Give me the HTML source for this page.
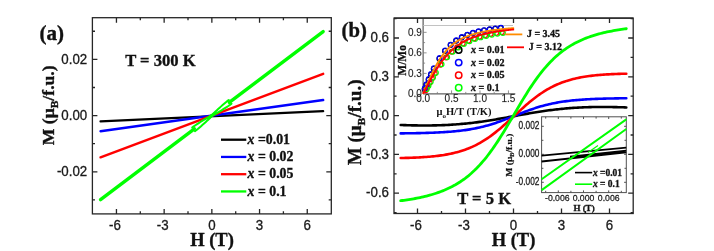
<!DOCTYPE html>
<html><head><meta charset="utf-8"><style>
html,body{margin:0;padding:0;background:#fff;width:714px;height:251px;overflow:hidden;-webkit-font-smoothing:antialiased}
svg{will-change:transform}
</style></head><body>
<div style="position:relative;width:714px;height:251px">
<svg width="714" height="251" viewBox="0 0 714 251" style="position:absolute;left:0;top:0">
<rect x="92.4" y="17.7" width="238.9" height="196.2" fill="none" stroke="#262626" stroke-width="1.3"/>
<path d="M116.45,213.9 v-5 M116.45,17.7 v5 M164.15,213.9 v-5 M164.15,17.7 v5 M211.85,213.9 v-5 M211.85,17.7 v5 M259.55,213.9 v-5 M259.55,17.7 v5 M307.25,213.9 v-5 M307.25,17.7 v5 M140.3,213.9 v-2.6 M140.3,17.7 v2.6 M188,213.9 v-2.6 M188,17.7 v2.6 M235.7,213.9 v-2.6 M235.7,17.7 v2.6 M283.4,213.9 v-2.6 M283.4,17.7 v2.6 M92.4,171.84 h5 M331.3,171.84 h-5 M92.4,115.6 h5 M331.3,115.6 h-5 M92.4,59.36 h5 M331.3,59.36 h-5 M92.4,199.96 h2.6 M331.3,199.96 h-2.6 M92.4,143.72 h2.6 M331.3,143.72 h-2.6 M92.4,87.48 h2.6 M331.3,87.48 h-2.6 M92.4,31.24 h2.6 M331.3,31.24 h-2.6" stroke="#262626" stroke-width="1.3" fill="none"/>
<text transform="translate(114.95,229.8) scale(1.0,1.1)" font-family="Liberation Sans" font-size="13.3" font-weight="normal" text-anchor="middle" fill="#1a1a1a" stroke="#1a1a1a" stroke-width="0.3" >-6</text>
<text transform="translate(162.65,229.8) scale(1.0,1.1)" font-family="Liberation Sans" font-size="13.3" font-weight="normal" text-anchor="middle" fill="#1a1a1a" stroke="#1a1a1a" stroke-width="0.3" >-3</text>
<text transform="translate(211.85,229.8) scale(1.0,1.1)" font-family="Liberation Sans" font-size="13.3" font-weight="normal" text-anchor="middle" fill="#1a1a1a" stroke="#1a1a1a" stroke-width="0.3" >0</text>
<text transform="translate(259.55,229.8) scale(1.0,1.1)" font-family="Liberation Sans" font-size="13.3" font-weight="normal" text-anchor="middle" fill="#1a1a1a" stroke="#1a1a1a" stroke-width="0.3" >3</text>
<text transform="translate(307.25,229.8) scale(1.0,1.1)" font-family="Liberation Sans" font-size="13.3" font-weight="normal" text-anchor="middle" fill="#1a1a1a" stroke="#1a1a1a" stroke-width="0.3" >6</text>
<text transform="translate(87.2,63.66) scale(1.0,1.1)" font-family="Liberation Sans" font-size="13.3" font-weight="normal" text-anchor="end" fill="#1a1a1a" stroke="#1a1a1a" stroke-width="0.3" >0.02</text>
<text transform="translate(87.2,119.9) scale(1.0,1.1)" font-family="Liberation Sans" font-size="13.3" font-weight="normal" text-anchor="end" fill="#1a1a1a" stroke="#1a1a1a" stroke-width="0.3" >0.00</text>
<text transform="translate(87.2,176.14) scale(1.0,1.1)" font-family="Liberation Sans" font-size="13.3" font-weight="normal" text-anchor="end" fill="#1a1a1a" stroke="#1a1a1a" stroke-width="0.3" >-0.02</text>
<path d="M100.55,121.42 L323.15,111.19" stroke="#000000" stroke-width="2.3" fill="none" stroke-linecap="round"/>
<path d="M100.55,131.15 L323.15,100.05" stroke="#0000ff" stroke-width="2.5" fill="none" stroke-linecap="round"/>
<path d="M100.55,157.33 L323.15,73.87" stroke="#ff0000" stroke-width="2.5" fill="none" stroke-linecap="round"/>
<path d="M100.55,199.65 L194.36,128.81 M229.34,102.39 L323.15,31.55" stroke="#00ff00" stroke-width="3.4" fill="none" stroke-linecap="round"/>
<path d="M192.19,127.57 L193.78,126.37 L195.41,125.22 L197.08,124.14 L198.76,123.06 L200.45,121.98 L202.14,120.92 L203.84,119.86 L205.55,118.82 L207.27,117.8 L209.02,116.81 L210.83,115.9 L212.42,114.69 L213.79,113.21 L215.22,111.8 L216.68,110.42 L218.15,109.06 L219.63,107.71 L221.12,106.37 L222.61,105.05 L224.11,103.72 L225.62,102.41 L227.16,101.15 L228.75,99.95 M194.94,131.25 L196.53,130.05 L198.08,128.79 L199.59,127.48 L201.09,126.15 L202.58,124.83 L204.07,123.49 L205.55,122.14 L207.02,120.78 L208.48,119.4 L209.91,117.99 L211.28,116.51 L212.87,115.3 L214.68,114.39 L216.43,113.4 L218.15,112.38 L219.86,111.34 L221.56,110.28 L223.25,109.22 L224.94,108.14 L226.62,107.06 L228.29,105.98 L229.92,104.83 L231.51,103.63" stroke="#00ff00" stroke-width="2.0" fill="none" stroke-linecap="round" stroke-linejoin="round"/>
<path d="M209.8,117 L213.8,114" stroke="#00ff00" stroke-width="3" fill="none" stroke-linecap="round"/>
<path d="M221,139.7 H246.3" stroke="#000000" stroke-width="2.3"/>
<text transform="translate(247.6,143.9) scale(1.0,1.0)" font-family="Liberation Serif" font-size="13.8" font-weight="bold" text-anchor="start" fill="#111" stroke="#111" stroke-width="0.35" ><tspan font-style="italic">x</tspan> =0.01</text>
<path d="M221,156.95 H246.3" stroke="#0000ff" stroke-width="2.3"/>
<text transform="translate(247.6,161.15) scale(1.0,1.0)" font-family="Liberation Serif" font-size="13.8" font-weight="bold" text-anchor="start" fill="#111" stroke="#111" stroke-width="0.35" ><tspan font-style="italic">x</tspan> = 0.02</text>
<path d="M221,174.2 H246.3" stroke="#ff0000" stroke-width="2.3"/>
<text transform="translate(247.6,178.4) scale(1.0,1.0)" font-family="Liberation Serif" font-size="13.8" font-weight="bold" text-anchor="start" fill="#111" stroke="#111" stroke-width="0.35" ><tspan font-style="italic">x</tspan> = 0.05</text>
<path d="M221,191.45 H246.3" stroke="#00ff00" stroke-width="2.3"/>
<text transform="translate(247.6,195.65) scale(1.0,1.0)" font-family="Liberation Serif" font-size="13.8" font-weight="bold" text-anchor="start" fill="#111" stroke="#111" stroke-width="0.35" ><tspan font-style="italic">x</tspan> = 0.1</text>
<text transform="translate(125.2,65.8) scale(1.0,1.03)" font-family="Liberation Serif" font-size="16.6" font-weight="bold" text-anchor="start" fill="#111" stroke="#111" stroke-width="0.35" >T = 300 K</text>
<text transform="translate(39.4,39.9) scale(1.0,1.0)" font-family="Liberation Serif" font-size="21" font-weight="bold" text-anchor="start" fill="#111" stroke="#111" stroke-width="0.35" >(a)</text>
<text transform="translate(212,246) scale(1.0,1.0)" font-family="Liberation Serif" font-size="18.5" font-weight="bold" text-anchor="middle" fill="#111" stroke="#111" stroke-width="0.35" >H (T)</text>
<text transform="translate(54.0,105.3) rotate(-90) scale(1.04,1)" font-family="Liberation Serif" font-size="17" font-weight="bold" text-anchor="middle" fill="#111" stroke="#111" stroke-width="0.35">M (μ<tspan font-size="11" dy="4">B</tspan><tspan dy="-4">/f.u.)</tspan></text>
<rect x="394" y="18.1" width="239.2" height="195.4" fill="none" stroke="#262626" stroke-width="1.3"/>
<path d="M417.5,213.5 v-5 M417.5,18.1 v5 M465.5,213.5 v-5 M465.5,18.1 v5 M513.5,213.5 v-5 M513.5,18.1 v5 M561.5,213.5 v-5 M561.5,18.1 v5 M609.5,213.5 v-5 M609.5,18.1 v5 M441.5,213.5 v-2.6 M441.5,18.1 v2.6 M489.5,213.5 v-2.6 M489.5,18.1 v2.6 M537.5,213.5 v-2.6 M537.5,18.1 v2.6 M585.5,213.5 v-2.6 M585.5,18.1 v2.6 M394,193.18 h5 M633.2,193.18 h-5 M394,154.39 h5 M633.2,154.39 h-5 M394,115.6 h5 M633.2,115.6 h-5 M394,76.81 h5 M633.2,76.81 h-5 M394,38.02 h5 M633.2,38.02 h-5 M394,212.57 h2.6 M633.2,212.57 h-2.6 M394,173.78 h2.6 M633.2,173.78 h-2.6 M394,135 h2.6 M633.2,135 h-2.6 M394,96.2 h2.6 M633.2,96.2 h-2.6 M394,57.41 h2.6 M633.2,57.41 h-2.6 M394,18.62 h2.6 M633.2,18.62 h-2.6" stroke="#262626" stroke-width="1.3" fill="none"/>
<text transform="translate(416,229.8) scale(1.0,1.1)" font-family="Liberation Sans" font-size="13.3" font-weight="normal" text-anchor="middle" fill="#1a1a1a" stroke="#1a1a1a" stroke-width="0.3" >-6</text>
<text transform="translate(464,229.8) scale(1.0,1.1)" font-family="Liberation Sans" font-size="13.3" font-weight="normal" text-anchor="middle" fill="#1a1a1a" stroke="#1a1a1a" stroke-width="0.3" >-3</text>
<text transform="translate(513.5,229.8) scale(1.0,1.1)" font-family="Liberation Sans" font-size="13.3" font-weight="normal" text-anchor="middle" fill="#1a1a1a" stroke="#1a1a1a" stroke-width="0.3" >0</text>
<text transform="translate(561.5,229.8) scale(1.0,1.1)" font-family="Liberation Sans" font-size="13.3" font-weight="normal" text-anchor="middle" fill="#1a1a1a" stroke="#1a1a1a" stroke-width="0.3" >3</text>
<text transform="translate(609.5,229.8) scale(1.0,1.1)" font-family="Liberation Sans" font-size="13.3" font-weight="normal" text-anchor="middle" fill="#1a1a1a" stroke="#1a1a1a" stroke-width="0.3" >6</text>
<text transform="translate(389,42.32) scale(1.0,1.1)" font-family="Liberation Sans" font-size="13.3" font-weight="normal" text-anchor="end" fill="#1a1a1a" stroke="#1a1a1a" stroke-width="0.3" >0.6</text>
<text transform="translate(389,81.11) scale(1.0,1.1)" font-family="Liberation Sans" font-size="13.3" font-weight="normal" text-anchor="end" fill="#1a1a1a" stroke="#1a1a1a" stroke-width="0.3" >0.3</text>
<text transform="translate(389,119.9) scale(1.0,1.1)" font-family="Liberation Sans" font-size="13.3" font-weight="normal" text-anchor="end" fill="#1a1a1a" stroke="#1a1a1a" stroke-width="0.3" >0.0</text>
<text transform="translate(389,158.69) scale(1.0,1.1)" font-family="Liberation Sans" font-size="13.3" font-weight="normal" text-anchor="end" fill="#1a1a1a" stroke="#1a1a1a" stroke-width="0.3" >-0.3</text>
<text transform="translate(389,197.48) scale(1.0,1.1)" font-family="Liberation Sans" font-size="13.3" font-weight="normal" text-anchor="end" fill="#1a1a1a" stroke="#1a1a1a" stroke-width="0.3" >-0.6</text>
<path d="M400.7,125.01 L402.31,125.07 L403.92,125.12 L405.53,125.17 L407.15,125.22 L408.76,125.26 L410.37,125.3 L411.98,125.34 L413.59,125.37 L415.2,125.4 L416.81,125.42 L418.43,125.44 L420.04,125.46 L421.65,125.47 L423.26,125.47 L424.87,125.48 L426.48,125.47 L428.09,125.46 L429.71,125.45 L431.32,125.43 L432.93,125.41 L434.54,125.38 L436.15,125.34 L437.76,125.3 L439.37,125.26 L440.99,125.2 L442.6,125.14 L444.21,125.08 L445.82,125.01 L447.43,124.93 L449.04,124.84 L450.65,124.75 L452.27,124.66 L453.88,124.55 L455.49,124.44 L457.1,124.32 L458.71,124.19 L460.32,124.06 L461.93,123.92 L463.55,123.77 L465.16,123.62 L466.77,123.46 L468.38,123.29 L469.99,123.11 L471.6,122.93 L473.21,122.74 L474.83,122.54 L476.44,122.34 L478.05,122.13 L479.66,121.91 L481.27,121.69 L482.88,121.46 L484.49,121.22 L486.11,120.98 L487.72,120.73 L489.33,120.48 L490.94,120.22 L492.55,119.96 L494.16,119.69 L495.77,119.42 L497.39,119.14 L499,118.86 L500.61,118.58 L502.22,118.29 L503.83,118 L505.44,117.71 L507.05,117.42 L508.67,117.12 L510.28,116.83 L511.89,116.53 L513.5,116.23 L515.11,115.94 L516.72,115.64 L518.33,115.34 L519.95,115.05 L521.56,114.75 L523.17,114.46 L524.78,114.17 L526.39,113.89 L528,113.6 L529.61,113.32 L531.23,113.05 L532.84,112.77 L534.45,112.51 L536.06,112.24 L537.67,111.98 L539.28,111.73 L540.89,111.48 L542.51,111.24 L544.12,111 L545.73,110.77 L547.34,110.55 L548.95,110.33 L550.56,110.12 L552.17,109.92 L553.79,109.72 L555.4,109.53 L557.01,109.35 L558.62,109.17 L560.23,109 L561.84,108.84 L563.45,108.68 L565.07,108.54 L566.68,108.4 L568.29,108.26 L569.9,108.14 L571.51,108.02 L573.12,107.9 L574.73,107.8 L576.35,107.7 L577.96,107.61 L579.57,107.52 L581.18,107.44 L582.79,107.37 L584.4,107.31 L586.01,107.25 L587.63,107.19 L589.24,107.15 L590.85,107.11 L592.46,107.07 L594.07,107.04 L595.68,107.02 L597.29,107 L598.91,106.98 L600.52,106.98 L602.13,106.97 L603.74,106.97 L605.35,106.98 L606.96,106.99 L608.57,107.01 L610.19,107.02 L611.8,107.05 L613.41,107.08 L615.02,107.11 L616.63,107.14 L618.24,107.18 L619.85,107.23 L621.47,107.27 L623.08,107.32 L624.69,107.38 L626.3,107.43" stroke="#000000" stroke-width="2.6" fill="none" stroke-linecap="round"/>
<path d="M400.7,133.38 L402.31,133.36 L403.92,133.34 L405.53,133.32 L407.15,133.3 L408.76,133.28 L410.37,133.26 L411.98,133.24 L413.59,133.21 L415.2,133.18 L416.81,133.15 L418.43,133.12 L420.04,133.08 L421.65,133.05 L423.26,133.01 L424.87,132.96 L426.48,132.92 L428.09,132.87 L429.71,132.82 L431.32,132.76 L432.93,132.7 L434.54,132.63 L436.15,132.56 L437.76,132.49 L439.37,132.41 L440.99,132.32 L442.6,132.23 L444.21,132.14 L445.82,132.03 L447.43,131.92 L449.04,131.8 L450.65,131.68 L452.27,131.54 L453.88,131.4 L455.49,131.24 L457.1,131.08 L458.71,130.91 L460.32,130.72 L461.93,130.53 L463.55,130.32 L465.16,130.1 L466.77,129.86 L468.38,129.61 L469.99,129.35 L471.6,129.08 L473.21,128.78 L474.83,128.47 L476.44,128.15 L478.05,127.81 L479.66,127.45 L481.27,127.07 L482.88,126.68 L484.49,126.27 L486.11,125.84 L487.72,125.39 L489.33,124.93 L490.94,124.45 L492.55,123.95 L494.16,123.43 L495.77,122.9 L497.39,122.35 L499,121.78 L500.61,121.21 L502.22,120.62 L503.83,120.02 L505.44,119.4 L507.05,118.78 L508.67,118.15 L510.28,117.52 L511.89,116.88 L513.5,116.24 L515.11,115.59 L516.72,114.95 L518.33,114.31 L519.95,113.67 L521.56,113.04 L523.17,112.42 L524.78,111.8 L526.39,111.19 L528,110.6 L529.61,110.02 L531.23,109.45 L532.84,108.9 L534.45,108.36 L536.06,107.83 L537.67,107.33 L539.28,106.84 L540.89,106.37 L542.51,105.92 L544.12,105.48 L545.73,105.06 L547.34,104.66 L548.95,104.28 L550.56,103.92 L552.17,103.57 L553.79,103.24 L555.4,102.92 L557.01,102.63 L558.62,102.34 L560.23,102.08 L561.84,101.82 L563.45,101.58 L565.07,101.36 L566.68,101.15 L568.29,100.95 L569.9,100.76 L571.51,100.58 L573.12,100.41 L574.73,100.26 L576.35,100.11 L577.96,99.97 L579.57,99.84 L581.18,99.72 L582.79,99.61 L584.4,99.5 L586.01,99.4 L587.63,99.31 L589.24,99.22 L590.85,99.14 L592.46,99.06 L594.07,98.99 L595.68,98.92 L597.29,98.86 L598.91,98.8 L600.52,98.75 L602.13,98.7 L603.74,98.65 L605.35,98.61 L606.96,98.57 L608.57,98.53 L610.19,98.49 L611.8,98.46 L613.41,98.43 L615.02,98.4 L616.63,98.37 L618.24,98.35 L619.85,98.32 L621.47,98.3 L623.08,98.28 L624.69,98.26 L626.3,98.24" stroke="#0000ff" stroke-width="2.6" fill="none" stroke-linecap="round"/>
<path d="M400.7,158.03 L402.31,158 L403.92,157.96 L405.53,157.92 L407.15,157.88 L408.76,157.83 L410.37,157.78 L411.98,157.73 L413.59,157.66 L415.2,157.6 L416.81,157.53 L418.43,157.45 L420.04,157.36 L421.65,157.27 L423.26,157.17 L424.87,157.06 L426.48,156.94 L428.09,156.82 L429.71,156.68 L431.32,156.54 L432.93,156.38 L434.54,156.21 L436.15,156.03 L437.76,155.84 L439.37,155.63 L440.99,155.41 L442.6,155.18 L444.21,154.92 L445.82,154.65 L447.43,154.36 L449.04,154.06 L450.65,153.73 L452.27,153.38 L453.88,153.01 L455.49,152.61 L457.1,152.19 L458.71,151.75 L460.32,151.27 L461.93,150.77 L463.55,150.24 L465.16,149.68 L466.77,149.09 L468.38,148.46 L469.99,147.81 L471.6,147.11 L473.21,146.38 L474.83,145.62 L476.44,144.81 L478.05,143.97 L479.66,143.09 L481.27,142.17 L482.88,141.21 L484.49,140.21 L486.11,139.17 L487.72,138.09 L489.33,136.97 L490.94,135.82 L492.55,134.62 L494.16,133.39 L495.77,132.13 L497.39,130.83 L499,129.5 L500.61,128.14 L502.22,126.76 L503.83,125.35 L505.44,123.92 L507.05,122.47 L508.67,121 L510.28,119.53 L511.89,118.04 L513.5,116.55 L515.11,115.06 L516.72,113.57 L518.33,112.08 L519.95,110.6 L521.56,109.14 L523.17,107.69 L524.78,106.26 L526.39,104.85 L528,103.47 L529.61,102.11 L531.23,100.79 L532.84,99.49 L534.45,98.23 L536.06,97 L537.67,95.81 L539.28,94.65 L540.89,93.54 L542.51,92.46 L544.12,91.43 L545.73,90.43 L547.34,89.47 L548.95,88.55 L550.56,87.67 L552.17,86.84 L553.79,86.03 L555.4,85.27 L557.01,84.54 L558.62,83.85 L560.23,83.19 L561.84,82.57 L563.45,81.98 L565.07,81.42 L566.68,80.89 L568.29,80.4 L569.9,79.92 L571.51,79.48 L573.12,79.06 L574.73,78.67 L576.35,78.3 L577.96,77.95 L579.57,77.62 L581.18,77.32 L582.79,77.03 L584.4,76.76 L586.01,76.51 L587.63,76.27 L589.24,76.05 L590.85,75.85 L592.46,75.65 L594.07,75.47 L595.68,75.31 L597.29,75.15 L598.91,75.01 L600.52,74.87 L602.13,74.75 L603.74,74.63 L605.35,74.52 L606.96,74.42 L608.57,74.33 L610.19,74.25 L611.8,74.17 L613.41,74.1 L615.02,74.03 L616.63,73.97 L618.24,73.91 L619.85,73.86 L621.47,73.82 L623.08,73.77 L624.69,73.73 L626.3,73.7" stroke="#ff0000" stroke-width="2.6" fill="none" stroke-linecap="round"/>
<path d="M400.7,200.71 L402.31,200.51 L403.92,200.3 L405.53,200.07 L407.15,199.84 L408.76,199.6 L410.37,199.34 L411.98,199.07 L413.59,198.8 L415.2,198.5 L416.81,198.2 L418.43,197.88 L420.04,197.55 L421.65,197.2 L423.26,196.83 L424.87,196.45 L426.48,196.05 L428.09,195.63 L429.71,195.2 L431.32,194.74 L432.93,194.26 L434.54,193.76 L436.15,193.24 L437.76,192.69 L439.37,192.12 L440.99,191.52 L442.6,190.89 L444.21,190.24 L445.82,189.55 L447.43,188.83 L449.04,188.08 L450.65,187.29 L452.27,186.46 L453.88,185.6 L455.49,184.7 L457.1,183.75 L458.71,182.76 L460.32,181.73 L461.93,180.64 L463.55,179.51 L465.16,178.33 L466.77,177.09 L468.38,175.8 L469.99,174.45 L471.6,173.05 L473.21,171.58 L474.83,170.05 L476.44,168.46 L478.05,166.81 L479.66,165.09 L481.27,163.3 L482.88,161.45 L484.49,159.53 L486.11,157.55 L487.72,155.49 L489.33,153.38 L490.94,151.19 L492.55,148.95 L494.16,146.64 L495.77,144.27 L497.39,141.85 L499,139.37 L500.61,136.85 L502.22,134.27 L503.83,131.66 L505.44,129.01 L507.05,126.33 L508.67,123.63 L510.28,120.9 L511.89,118.17 L513.5,115.42 L515.11,112.67 L516.72,109.93 L518.33,107.19 L519.95,104.48 L521.56,101.78 L523.17,99.12 L524.78,96.48 L526.39,93.89 L528,91.34 L529.61,88.83 L531.23,86.38 L532.84,83.98 L534.45,81.64 L536.06,79.36 L537.67,77.15 L539.28,74.99 L540.89,72.9 L542.51,70.88 L544.12,68.93 L545.73,67.04 L547.34,65.22 L548.95,63.46 L550.56,61.77 L552.17,60.15 L553.79,58.59 L555.4,57.09 L557.01,55.65 L558.62,54.27 L560.23,52.95 L561.84,51.68 L563.45,50.47 L565.07,49.31 L566.68,48.2 L568.29,47.14 L569.9,46.13 L571.51,45.16 L573.12,44.23 L574.73,43.35 L576.35,42.5 L577.96,41.69 L579.57,40.92 L581.18,40.18 L582.79,39.48 L584.4,38.8 L586.01,38.16 L587.63,37.55 L589.24,36.96 L590.85,36.4 L592.46,35.86 L594.07,35.35 L595.68,34.86 L597.29,34.39 L598.91,33.95 L600.52,33.52 L602.13,33.11 L603.74,32.72 L605.35,32.34 L606.96,31.99 L608.57,31.65 L610.19,31.32 L611.8,31.01 L613.41,30.71 L615.02,30.42 L616.63,30.15 L618.24,29.89 L619.85,29.64 L621.47,29.4 L623.08,29.17 L624.69,28.95 L626.3,28.74" stroke="#00ff00" stroke-width="2.8" fill="none" stroke-linecap="round"/>
<text transform="translate(457.2,204) scale(1.0,1.03)" font-family="Liberation Serif" font-size="16.6" font-weight="bold" text-anchor="start" fill="#111" stroke="#111" stroke-width="0.35" >T = 5 K</text>
<text transform="translate(341.5,36.6) scale(1.0,1.0)" font-family="Liberation Serif" font-size="20.7" font-weight="bold" text-anchor="start" fill="#111" stroke="#111" stroke-width="0.35" >(b)</text>
<text transform="translate(513.5,246) scale(1.0,1.0)" font-family="Liberation Serif" font-size="18.5" font-weight="bold" text-anchor="middle" fill="#111" stroke="#111" stroke-width="0.35" >H (T)</text>
<text transform="translate(361.0,122.4) rotate(-90) scale(1.06,1)" font-family="Liberation Serif" font-size="18" font-weight="bold" text-anchor="middle" fill="#111" stroke="#111" stroke-width="0.35">M (μ<tspan font-size="11" dy="4">B</tspan><tspan dy="-4">/f.u.)</tspan></text>
<path d="M423.1,18.1 V93.9 H515.3" stroke="#3a3a3a" stroke-width="1.0" fill="none"/>
<path d="M423.1,25.5 H513" stroke="#bbbbbb" stroke-width="0.9" fill="none"/>
<path d="M451.55,93.9 v-3.5 M480,93.9 v-3.5 M508.45,93.9 v-3.5 M437.33,93.9 v-2 M465.78,93.9 v-2 M494.23,93.9 v-2 M423.1,73.38 h3.5 M423.1,52.86 h3.5 M423.1,32.34 h3.5 M423.1,83.64 h2 M423.1,63.12 h2 M423.1,42.6 h2" stroke="#777" stroke-width="0.8" fill="none"/>
<path d="M394.0,18.1 H633.2" stroke="#262626" stroke-width="1.3"/>
<text transform="translate(421.9,35.84) scale(1.0,1.1)" font-family="Liberation Sans" font-size="10" font-weight="normal" text-anchor="end" fill="#1a1a1a" stroke="#1a1a1a" stroke-width="0.27" stroke-opacity="0.4">0.9</text>
<text transform="translate(421.9,56.36) scale(1.0,1.1)" font-family="Liberation Sans" font-size="10" font-weight="normal" text-anchor="end" fill="#1a1a1a" stroke="#1a1a1a" stroke-width="0.27" stroke-opacity="0.4">0.6</text>
<text transform="translate(421.9,76.88) scale(1.0,1.1)" font-family="Liberation Sans" font-size="10" font-weight="normal" text-anchor="end" fill="#1a1a1a" stroke="#1a1a1a" stroke-width="0.27" stroke-opacity="0.4">0.3</text>
<text transform="translate(421.9,97.4) scale(1.0,1.1)" font-family="Liberation Sans" font-size="10" font-weight="normal" text-anchor="end" fill="#1a1a1a" stroke="#1a1a1a" stroke-width="0.27" stroke-opacity="0.4">0.0</text>
<text transform="translate(423.1,102.3) scale(1.0,1.1)" font-family="Liberation Sans" font-size="10" font-weight="normal" text-anchor="middle" fill="#1a1a1a" stroke="#1a1a1a" stroke-width="0.27" stroke-opacity="0.4">0.0</text>
<text transform="translate(451.55,102.3) scale(1.0,1.1)" font-family="Liberation Sans" font-size="10" font-weight="normal" text-anchor="middle" fill="#1a1a1a" stroke="#1a1a1a" stroke-width="0.27" stroke-opacity="0.4">0.5</text>
<text transform="translate(480,102.3) scale(1.0,1.1)" font-family="Liberation Sans" font-size="10" font-weight="normal" text-anchor="middle" fill="#1a1a1a" stroke="#1a1a1a" stroke-width="0.27" stroke-opacity="0.4">1.0</text>
<text transform="translate(508.45,102.3) scale(1.0,1.1)" font-family="Liberation Sans" font-size="10" font-weight="normal" text-anchor="middle" fill="#1a1a1a" stroke="#1a1a1a" stroke-width="0.27" stroke-opacity="0.4">1.5</text>
<text x="464" y="115" font-family="Liberation Serif" font-size="10.5" font-weight="bold" text-anchor="middle" fill="#111">μ<tspan font-size="7" dy="2.5">o</tspan><tspan dy="-2.5">H/T (T/K)</tspan></text>
<text transform="translate(405.6,60.4) rotate(-90)" font-family="Liberation Serif" font-size="11.5" stroke="#111" stroke-width="0.3" font-weight="bold" text-anchor="middle" fill="#111">M/Mo</text>
<circle cx="424.58" cy="89.13" r="2.4" fill="none" stroke="#000000" stroke-width="1.15"/>
<circle cx="426.29" cy="85.08" r="2.4" fill="none" stroke="#000000" stroke-width="1.15"/>
<circle cx="428.56" cy="79.81" r="2.4" fill="none" stroke="#000000" stroke-width="1.15"/>
<circle cx="430.84" cy="74.75" r="2.4" fill="none" stroke="#000000" stroke-width="1.15"/>
<circle cx="433.68" cy="68.85" r="2.4" fill="none" stroke="#000000" stroke-width="1.15"/>
<circle cx="439.37" cy="58.68" r="2.4" fill="none" stroke="#000000" stroke-width="1.15"/>
<circle cx="444.95" cy="50.93" r="2.4" fill="none" stroke="#000000" stroke-width="1.15"/>
<circle cx="450.53" cy="45.09" r="2.4" fill="none" stroke="#000000" stroke-width="1.15"/>
<circle cx="456.1" cy="40.74" r="2.4" fill="none" stroke="#000000" stroke-width="1.15"/>
<circle cx="461.68" cy="37.49" r="2.4" fill="none" stroke="#000000" stroke-width="1.15"/>
<circle cx="467.25" cy="35.02" r="2.4" fill="none" stroke="#000000" stroke-width="1.15"/>
<circle cx="472.83" cy="33.12" r="2.4" fill="none" stroke="#000000" stroke-width="1.15"/>
<circle cx="478.41" cy="31.63" r="2.4" fill="none" stroke="#000000" stroke-width="1.15"/>
<circle cx="483.98" cy="30.44" r="2.4" fill="none" stroke="#000000" stroke-width="1.15"/>
<circle cx="489.56" cy="29.48" r="2.4" fill="none" stroke="#000000" stroke-width="1.15"/>
<circle cx="495.14" cy="28.7" r="2.4" fill="none" stroke="#000000" stroke-width="1.15"/>
<circle cx="500.71" cy="28.05" r="2.4" fill="none" stroke="#000000" stroke-width="1.15"/>
<circle cx="425.66" cy="90.28" r="2.4" fill="none" stroke="#ff0000" stroke-width="1.15"/>
<circle cx="427.37" cy="87" r="2.4" fill="none" stroke="#ff0000" stroke-width="1.15"/>
<circle cx="429.64" cy="82.7" r="2.4" fill="none" stroke="#ff0000" stroke-width="1.15"/>
<circle cx="431.92" cy="78.55" r="2.4" fill="none" stroke="#ff0000" stroke-width="1.15"/>
<circle cx="434.76" cy="73.61" r="2.4" fill="none" stroke="#ff0000" stroke-width="1.15"/>
<circle cx="440.45" cy="64.77" r="2.4" fill="none" stroke="#ff0000" stroke-width="1.15"/>
<circle cx="446.03" cy="57.58" r="2.4" fill="none" stroke="#ff0000" stroke-width="1.15"/>
<circle cx="451.61" cy="51.79" r="2.4" fill="none" stroke="#ff0000" stroke-width="1.15"/>
<circle cx="457.18" cy="47.2" r="2.4" fill="none" stroke="#ff0000" stroke-width="1.15"/>
<circle cx="462.76" cy="43.59" r="2.4" fill="none" stroke="#ff0000" stroke-width="1.15"/>
<circle cx="468.34" cy="40.75" r="2.4" fill="none" stroke="#ff0000" stroke-width="1.15"/>
<circle cx="473.91" cy="38.49" r="2.4" fill="none" stroke="#ff0000" stroke-width="1.15"/>
<circle cx="479.49" cy="36.68" r="2.4" fill="none" stroke="#ff0000" stroke-width="1.15"/>
<circle cx="485.06" cy="35.21" r="2.4" fill="none" stroke="#ff0000" stroke-width="1.15"/>
<circle cx="490.64" cy="34.01" r="2.4" fill="none" stroke="#ff0000" stroke-width="1.15"/>
<circle cx="496.22" cy="33.01" r="2.4" fill="none" stroke="#ff0000" stroke-width="1.15"/>
<circle cx="501.79" cy="32.18" r="2.4" fill="none" stroke="#ff0000" stroke-width="1.15"/>
<circle cx="426.8" cy="89.11" r="2.4" fill="none" stroke="#00ff00" stroke-width="1.15"/>
<circle cx="428.51" cy="85.86" r="2.4" fill="none" stroke="#00ff00" stroke-width="1.15"/>
<circle cx="430.78" cy="81.63" r="2.4" fill="none" stroke="#00ff00" stroke-width="1.15"/>
<circle cx="433.06" cy="77.56" r="2.4" fill="none" stroke="#00ff00" stroke-width="1.15"/>
<circle cx="435.9" cy="72.75" r="2.4" fill="none" stroke="#00ff00" stroke-width="1.15"/>
<circle cx="441.59" cy="64.21" r="2.4" fill="none" stroke="#00ff00" stroke-width="1.15"/>
<circle cx="447.17" cy="57.32" r="2.4" fill="none" stroke="#00ff00" stroke-width="1.15"/>
<circle cx="452.74" cy="51.79" r="2.4" fill="none" stroke="#00ff00" stroke-width="1.15"/>
<circle cx="458.32" cy="47.42" r="2.4" fill="none" stroke="#00ff00" stroke-width="1.15"/>
<circle cx="463.9" cy="43.98" r="2.4" fill="none" stroke="#00ff00" stroke-width="1.15"/>
<circle cx="469.47" cy="41.27" r="2.4" fill="none" stroke="#00ff00" stroke-width="1.15"/>
<circle cx="475.05" cy="39.11" r="2.4" fill="none" stroke="#00ff00" stroke-width="1.15"/>
<circle cx="480.63" cy="37.38" r="2.4" fill="none" stroke="#00ff00" stroke-width="1.15"/>
<circle cx="486.2" cy="35.97" r="2.4" fill="none" stroke="#00ff00" stroke-width="1.15"/>
<circle cx="491.78" cy="34.81" r="2.4" fill="none" stroke="#00ff00" stroke-width="1.15"/>
<circle cx="497.35" cy="33.85" r="2.4" fill="none" stroke="#00ff00" stroke-width="1.15"/>
<circle cx="502.93" cy="33.05" r="2.4" fill="none" stroke="#00ff00" stroke-width="1.15"/>
<circle cx="424.81" cy="88.31" r="2.4" fill="none" stroke="#0000ff" stroke-width="1.15"/>
<circle cx="426.51" cy="84.27" r="2.4" fill="none" stroke="#0000ff" stroke-width="1.15"/>
<circle cx="428.79" cy="79.02" r="2.4" fill="none" stroke="#0000ff" stroke-width="1.15"/>
<circle cx="431.07" cy="73.99" r="2.4" fill="none" stroke="#0000ff" stroke-width="1.15"/>
<circle cx="433.91" cy="68.12" r="2.4" fill="none" stroke="#0000ff" stroke-width="1.15"/>
<circle cx="439.6" cy="58.05" r="2.4" fill="none" stroke="#0000ff" stroke-width="1.15"/>
<circle cx="445.18" cy="50.38" r="2.4" fill="none" stroke="#0000ff" stroke-width="1.15"/>
<circle cx="450.75" cy="44.61" r="2.4" fill="none" stroke="#0000ff" stroke-width="1.15"/>
<circle cx="456.33" cy="40.32" r="2.4" fill="none" stroke="#0000ff" stroke-width="1.15"/>
<circle cx="461.91" cy="37.1" r="2.4" fill="none" stroke="#0000ff" stroke-width="1.15"/>
<circle cx="467.48" cy="34.66" r="2.4" fill="none" stroke="#0000ff" stroke-width="1.15"/>
<circle cx="473.06" cy="32.78" r="2.4" fill="none" stroke="#0000ff" stroke-width="1.15"/>
<circle cx="478.63" cy="31.3" r="2.4" fill="none" stroke="#0000ff" stroke-width="1.15"/>
<circle cx="484.21" cy="30.13" r="2.4" fill="none" stroke="#0000ff" stroke-width="1.15"/>
<circle cx="489.79" cy="29.17" r="2.4" fill="none" stroke="#0000ff" stroke-width="1.15"/>
<circle cx="495.36" cy="28.39" r="2.4" fill="none" stroke="#0000ff" stroke-width="1.15"/>
<circle cx="500.94" cy="27.75" r="2.4" fill="none" stroke="#0000ff" stroke-width="1.15"/>
<path d="M423.16,93.76 L424.31,91.01 L425.46,88.26 L426.61,85.55 L427.76,82.87 L428.92,80.24 L430.07,77.67 L431.22,75.17 L432.37,72.74 L433.52,70.4 L434.67,68.15 L435.83,65.98 L436.98,63.91 L438.13,61.94 L439.28,60.06 L440.43,58.28 L441.58,56.59 L442.74,54.99 L443.89,53.48 L445.04,52.05 L446.19,50.71 L447.34,49.45 L448.49,48.25 L449.65,47.13 L450.8,46.08 L451.95,45.09 L453.1,44.15 L454.25,43.28 L455.4,42.45 L456.56,41.67 L457.71,40.94 L458.86,40.25 L460.01,39.6 L461.16,38.98 L462.31,38.4 L463.47,37.86 L464.62,37.34 L465.77,36.85 L466.92,36.39 L468.07,35.95 L469.22,35.53 L470.38,35.13 L471.53,34.76 L472.68,34.4 L473.83,34.06 L474.98,33.74 L476.13,33.43 L477.29,33.14 L478.44,32.86 L479.59,32.59 L480.74,32.33 L481.89,32.09 L483.04,31.86 L484.2,31.63 L485.35,31.42 L486.5,31.22 L487.65,31.02 L488.8,30.83 L489.95,30.65 L491.11,30.48 L492.26,30.31 L493.41,30.15 L494.56,30 L495.71,29.85 L496.86,29.71 L498.02,29.58 L499.17,29.45 L500.32,29.32 L501.47,29.2 L502.62,29.08 L503.77,28.97 L504.93,28.86 L506.08,28.75 L507.23,28.65 L508.38,28.56 L509.53,28.46 L510.68,28.37 L511.84,28.28 L512.99,28.2 L514.14,28.12" stroke="#ff8c00" stroke-width="1.9" fill="none"/>
<path d="M423.16,93.79 L424.31,91.54 L425.46,89.3 L426.61,87.08 L427.76,84.87 L428.92,82.7 L430.07,80.55 L431.22,78.44 L432.37,76.38 L433.52,74.36 L434.67,72.4 L435.83,70.49 L436.98,68.63 L438.13,66.84 L439.28,65.11 L440.43,63.44 L441.58,61.83 L442.74,60.29 L443.89,58.81 L445.04,57.39 L446.19,56.03 L447.34,54.73 L448.49,53.49 L449.65,52.31 L450.8,51.18 L451.95,50.11 L453.1,49.08 L454.25,48.11 L455.4,47.18 L456.56,46.3 L457.71,45.46 L458.86,44.66 L460.01,43.89 L461.16,43.17 L462.31,42.48 L463.47,41.83 L464.62,41.2 L465.77,40.61 L466.92,40.04 L468.07,39.5 L469.22,38.99 L470.38,38.49 L471.53,38.03 L472.68,37.58 L473.83,37.15 L474.98,36.74 L476.13,36.35 L477.29,35.98 L478.44,35.62 L479.59,35.28 L480.74,34.95 L481.89,34.64 L483.04,34.34 L484.2,34.05 L485.35,33.78 L486.5,33.51 L487.65,33.25 L488.8,33.01 L489.95,32.77 L491.11,32.55 L492.26,32.33 L493.41,32.12 L494.56,31.92 L495.71,31.72 L496.86,31.54 L498.02,31.36 L499.17,31.18 L500.32,31.01 L501.47,30.85 L502.62,30.7 L503.77,30.54 L504.93,30.4 L506.08,30.26 L507.23,30.12 L508.38,29.99 L509.53,29.86 L510.68,29.74 L511.84,29.62 L512.99,29.51 L514.14,29.39" stroke="#ff0000" stroke-width="1.9" fill="none"/>
<circle cx="458.7" cy="50" r="3.2" fill="none" stroke="#000000" stroke-width="1.5"/>
<text transform="translate(471,53) scale(1.0,1.0)" font-family="Liberation Serif" font-size="10.1" font-weight="bold" text-anchor="start" fill="#111" stroke="#111" stroke-width="0.32" ><tspan font-style="italic">x</tspan> = 0.01</text>
<circle cx="458.7" cy="62.6" r="3.2" fill="none" stroke="#0000ff" stroke-width="1.5"/>
<text transform="translate(471,65.6) scale(1.0,1.0)" font-family="Liberation Serif" font-size="10.1" font-weight="bold" text-anchor="start" fill="#111" stroke="#111" stroke-width="0.32" ><tspan font-style="italic">x</tspan> = 0.02</text>
<circle cx="458.7" cy="75.2" r="3.2" fill="none" stroke="#ff0000" stroke-width="1.5"/>
<text transform="translate(471,78.2) scale(1.0,1.0)" font-family="Liberation Serif" font-size="10.1" font-weight="bold" text-anchor="start" fill="#111" stroke="#111" stroke-width="0.32" ><tspan font-style="italic">x</tspan> = 0.05</text>
<circle cx="458.7" cy="87.8" r="3.2" fill="none" stroke="#00ff00" stroke-width="1.5"/>
<text transform="translate(471,90.8) scale(1.0,1.0)" font-family="Liberation Serif" font-size="10.1" font-weight="bold" text-anchor="start" fill="#111" stroke="#111" stroke-width="0.32" ><tspan font-style="italic">x</tspan> = 0.1</text>
<path d="M505.2,34.4 H522.3" stroke="#ff8c00" stroke-width="1.8"/>
<path d="M507,47.3 H524" stroke="#ff0000" stroke-width="1.8"/>
<text transform="translate(526.9,37.2) scale(1.0,1.0)" font-family="Liberation Serif" font-size="10" font-weight="bold" text-anchor="start" fill="#111" stroke="#111" stroke-width="0.32" >J = 3.45</text>
<text transform="translate(528.7,50.2) scale(1.0,1.0)" font-family="Liberation Serif" font-size="10" font-weight="bold" text-anchor="start" fill="#111" stroke="#111" stroke-width="0.32" >J = 3.12</text>
<rect x="541.6" y="116.8" width="84.7" height="75.8" fill="#fff"/>
<rect x="541.6" y="116.8" width="84.7" height="75.8" fill="none" stroke="#505050" stroke-width="1.0"/>
<path d="M558.3,192.6 v-2.2 M558.3,116.8 v2.2 M583.5,192.6 v-2.2 M583.5,116.8 v2.2 M608.7,192.6 v-2.2 M608.7,116.8 v2.2 M545.7,192.6 v-1.8 M545.7,116.8 v1.8 M570.9,192.6 v-1.8 M570.9,116.8 v1.8 M596.1,192.6 v-1.8 M596.1,116.8 v1.8 M621.3,192.6 v-1.8 M621.3,116.8 v1.8 M541.6,182.3 h2.2 M626.3,182.3 h-2.2 M541.6,154.3 h2.2 M626.3,154.3 h-2.2 M541.6,126.3 h2.2 M626.3,126.3 h-2.2 M541.6,168.3 h1.8 M626.3,168.3 h-1.8 M541.6,140.3 h1.8 M626.3,140.3 h-1.8" stroke="#505050" stroke-width="1.0" fill="none"/>
<svg x="541.6" y="116.8" width="84.7" height="75.8" viewBox="541.6 116.8 84.7 75.8" overflow="hidden">
<path d="M541.6,155.6 L626.3,147.6 M570,156.6 L626.3,150.6 M541.6,161.5 L626.3,152.3" stroke="#000" stroke-width="1.8" fill="none"/>
<path d="M541.6,179.2 L626.3,119.4 M541.6,190.1 L626.3,129" stroke="#00ff00" stroke-width="2.0" fill="none"/>
<path d="M588,152.5 L598,145.6" stroke="#00ff00" stroke-width="1.2" fill="none"/>
</svg>
<text transform="translate(539.4,129.3) scale(0.98,1.28)" font-family="Liberation Sans" font-size="8.5" font-weight="normal" text-anchor="end" fill="#1a1a1a" stroke="#1a1a1a" stroke-width="0.23" >0.002</text>
<text transform="translate(539.4,157.3) scale(0.98,1.28)" font-family="Liberation Sans" font-size="8.5" font-weight="normal" text-anchor="end" fill="#1a1a1a" stroke="#1a1a1a" stroke-width="0.23" >0.000</text>
<text transform="translate(539.4,185.3) scale(0.98,1.28)" font-family="Liberation Sans" font-size="8.5" font-weight="normal" text-anchor="end" fill="#1a1a1a" stroke="#1a1a1a" stroke-width="0.23" >-0.002</text>
<text transform="translate(557.3,200.7) scale(1.0,1.1)" font-family="Liberation Sans" font-size="8.7" font-weight="normal" text-anchor="middle" fill="#1a1a1a" stroke="#1a1a1a" stroke-width="0.24" >-0.006</text>
<text transform="translate(583.5,200.7) scale(1.0,1.1)" font-family="Liberation Sans" font-size="8.7" font-weight="normal" text-anchor="middle" fill="#1a1a1a" stroke="#1a1a1a" stroke-width="0.24" >0.000</text>
<text transform="translate(608.7,200.7) scale(1.0,1.1)" font-family="Liberation Sans" font-size="8.7" font-weight="normal" text-anchor="middle" fill="#1a1a1a" stroke="#1a1a1a" stroke-width="0.24" >0.006</text>
<text transform="translate(584,210.5) scale(1.0,1.0)" font-family="Liberation Serif" font-size="9" font-weight="bold" text-anchor="middle" fill="#111" stroke="#111" stroke-width="0.29" >H (T)</text>
<text transform="translate(512.3,155.1) rotate(-90) scale(1.12,1)" font-family="Liberation Serif" font-size="8.5" font-weight="bold" text-anchor="middle" fill="#111" stroke="#111" stroke-width="0.2">M (μ<tspan font-size="5.5" dy="2">B</tspan><tspan dy="-2">/f.u.)</tspan></text>
<path d="M575,172.6 H592.2" stroke="#000000" stroke-width="1.6"/>
<text transform="translate(592.9,175.6) scale(1.0,1.1)" font-family="Liberation Serif" font-size="9.5" font-weight="bold" text-anchor="start" fill="#111" stroke="#111" stroke-width="0.3" ><tspan font-style="italic">x</tspan> =0.01</text>
<path d="M575,184.2 H592.2" stroke="#00ff00" stroke-width="1.6"/>
<text transform="translate(592.9,187.2) scale(1.0,1.1)" font-family="Liberation Serif" font-size="9.5" font-weight="bold" text-anchor="start" fill="#111" stroke="#111" stroke-width="0.3" ><tspan font-style="italic">x</tspan> = 0.1</text>
</svg>
</div>
</body></html>
